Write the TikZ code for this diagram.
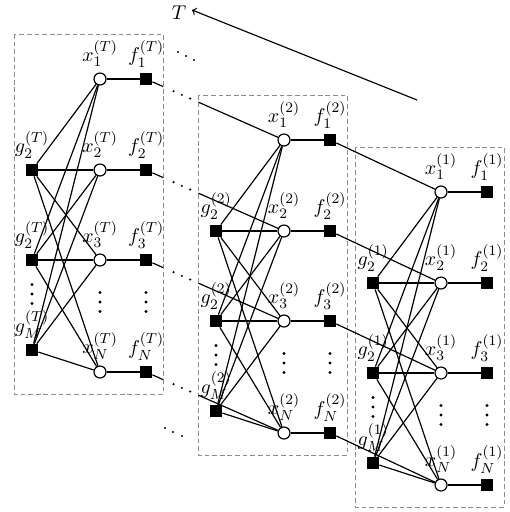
\documentclass[tikz,border=0pt]{standalone}
\usetikzlibrary{calc}
\begin{document}
\begin{tikzpicture}[x=0.55pt,y=-0.55pt,
  var/.style={circle,draw,fill=white,line width=0.65pt,minimum size=6.6pt,inner sep=0pt},
  fac/.style={rectangle,fill=black,minimum size=6.6pt,inner sep=0pt},
  link/.style={line width=0.65pt},
  every label/.style={font=\fontsize{10.8}{13}\selectfont,inner sep=2.8pt},
  panel/.style={draw=black!45,line width=0.5pt,dash pattern=on 2.6pt off 1.6pt}]
\useasboundingbox (0,0) rectangle (509,512);

% time slices: dashed frame, variable nodes, factor nodes, vertical dots
\foreach \p/\gx/\ry/\s in {T/32/79/T, B/216/140/2, A/373/192/1} {
  \draw[panel] (\gx-18,\ry-45) rectangle (\gx+131,\ry+315);
  \foreach \i/\dy in {1/0,2/91,3/181,N/293} {
    \node[var,label=above:{$x_{\i}^{(\s)}$}] (x\p\i) at (\gx+68,\ry+\dy) {};
    \node[fac,label=above:{$f_{\i}^{(\s)}$}] (f\p\i) at (\gx+114,\ry+\dy) {};
  }
  \node[fac,label=above:{$g_2^{(\s)}$}] (g\p2) at (\gx,\ry+91) {};
  \node[fac,label=above:{$g_2^{(\s)}$}] (g\p3) at (\gx,\ry+181) {};
  \node[fac,label=above:{$g_M^{(\s)}$}] (g\p M) at (\gx,\ry+271) {};
  \foreach \k in {-9.5,0,9.5} {
    \fill (\gx,\ry+215+\k) circle (0.85pt);
    \fill (\gx+68,\ry+223+\k) circle (0.85pt);
    \fill (\gx+114,\ry+223+\k) circle (0.85pt);
  }
}

% edges inside each slice
\foreach \p in {T,B,A} {
  \foreach \i in {1,2,3,N} {
    \draw[link] (x\p\i) -- (f\p\i);
    \foreach \g in {2,3,M}
      \draw[link] (g\p\g) -- (x\p\i);
  }
}

% links from slice T to slice 2, interrupted by dots
\foreach \i in {1,2,3,N} {
  \draw[link] (fT\i) -- ($(fT\i)!0.124!(xB\i)$);
  \draw[link] ($(fT\i)!0.38!(xB\i)$) -- (xB\i);
  \foreach \t in {0.2,0.26,0.32}
    \fill ($(fT\i)!\t!(xB\i)$) circle (0.65pt);
}

% links from slice 2 to slice 1
\foreach \i in {1,2,3,N}
  \draw[link] (fB\i) -- (xA\i);

% further slices omitted
\foreach \c in {(178,52),(186,56),(194,60),(165,428),(173,432),(182,436)}
  \fill \c circle (0.65pt);

% time axis
\coordinate (tstart) at (417,100);
\coordinate (tend) at (192,10);
\node[font=\fontsize{10.8}{13}\selectfont] (tlab) at (179,13) {$T$};
\draw[line width=0.65pt,->] (tstart) -- (tend);
\end{tikzpicture}
\end{document}
